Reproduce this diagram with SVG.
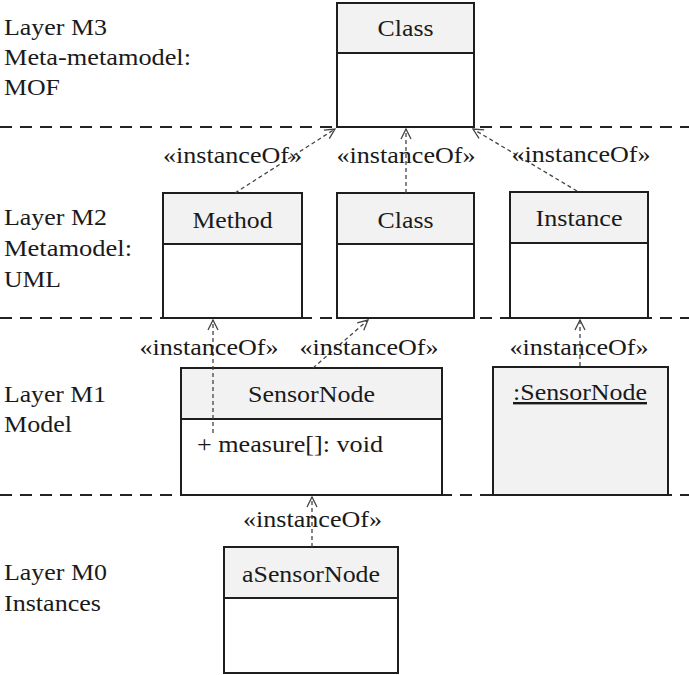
<svg xmlns="http://www.w3.org/2000/svg" width="689" height="675" viewBox="0 0 689 675">
  <style>
    text { font-family: Liberation Serif, Times New Roman, Times, Nimbus Roman, Noto Serif, DejaVu Serif, FreeSerif, serif; font-size: 24px; fill: #1a1a1a; }
    .c { text-anchor: middle; }
    .box { fill: #ffffff; stroke: #1e1e1e; stroke-width: 2; }
    .head { fill: #f2f2f2; stroke: #1e1e1e; stroke-width: 2; }
    .layer { stroke: #222; stroke-width: 2; stroke-dasharray: 12 8; fill: none; }
    .dep { stroke: #444; stroke-width: 1.3; stroke-dasharray: 4 3; fill: none; marker-end: url(#open); }
  </style>
  <defs>
    <marker id="open" viewBox="0 0 12 12" refX="11" refY="6" markerWidth="12" markerHeight="12" markerUnits="userSpaceOnUse" orient="auto">
      <path d="M1,1 L11,6 L1,11" fill="none" stroke="#444" stroke-width="1.3"/>
    </marker>
  </defs>
  <rect width="689" height="675" fill="#ffffff"/>

  <!-- layer separators -->
  <g id="separators">
    <line class="layer" x1="0" y1="127" x2="689" y2="127"/>
    <line class="layer" x1="0" y1="318" x2="689" y2="318"/>
    <line class="layer" x1="0" y1="495" x2="689" y2="495"/>
  </g>

  <!-- layer captions -->
  <g id="captions">
    <text x="4" y="35" textLength="103" lengthAdjust="spacingAndGlyphs">Layer M3</text>
    <text x="4" y="65" textLength="187" lengthAdjust="spacingAndGlyphs">Meta-metamodel:</text>
    <text x="4" y="95" textLength="56" lengthAdjust="spacingAndGlyphs">MOF</text>
    <text x="4" y="225" textLength="103" lengthAdjust="spacingAndGlyphs">Layer M2</text>
    <text x="4" y="256" textLength="128" lengthAdjust="spacingAndGlyphs">Metamodel:</text>
    <text x="4" y="287" textLength="57" lengthAdjust="spacingAndGlyphs">UML</text>
    <text x="4" y="402" textLength="102" lengthAdjust="spacingAndGlyphs">Layer M1</text>
    <text x="4" y="432" textLength="68" lengthAdjust="spacingAndGlyphs">Model</text>
    <text x="4" y="580" textLength="103" lengthAdjust="spacingAndGlyphs">Layer M0</text>
    <text x="4" y="611" textLength="97" lengthAdjust="spacingAndGlyphs">Instances</text>
  </g>

  <!-- M3 -->
  <g id="m3-class">
    <rect class="box" x="337" y="3" width="137" height="124"/>
    <rect class="head" x="337" y="3" width="137" height="50"/>
    <text class="c" x="405.5" y="36" textLength="56" lengthAdjust="spacingAndGlyphs">Class</text>
  </g>

  <!-- M2 -->
  <g id="m2-method">
    <rect class="box" x="163" y="193" width="139" height="125"/>
    <rect class="head" x="163" y="193" width="139" height="51"/>
    <text class="c" x="232.5" y="228" textLength="80" lengthAdjust="spacingAndGlyphs">Method</text>
  </g>
  <g id="m2-class">
    <rect class="box" x="337" y="193" width="137" height="125"/>
    <rect class="head" x="337" y="193" width="137" height="51"/>
    <text class="c" x="405.5" y="228" textLength="56" lengthAdjust="spacingAndGlyphs">Class</text>
  </g>
  <g id="m2-instance">
    <rect class="box" x="510" y="192" width="138" height="126"/>
    <rect class="head" x="510" y="192" width="138" height="51"/>
    <text class="c" x="579" y="226" textLength="87" lengthAdjust="spacingAndGlyphs">Instance</text>
  </g>

  <!-- M1 -->
  <g id="m1-sensornode">
    <rect class="box" x="181" y="368" width="261" height="127"/>
    <rect class="head" x="181" y="368" width="261" height="51"/>
    <text class="c" x="311.5" y="402" textLength="127" lengthAdjust="spacingAndGlyphs">SensorNode</text>
    <text x="197" y="452" textLength="186" lengthAdjust="spacingAndGlyphs">+ measure[]: void</text>
  </g>
  <g id="m1-instance">
    <rect class="head" x="493" y="367" width="175" height="128"/>
    <text class="c" x="580" y="400" text-decoration="underline" textLength="134" lengthAdjust="spacingAndGlyphs">:SensorNode</text>
  </g>

  <!-- M0 -->
  <g id="m0-asensornode">
    <rect class="box" x="224" y="547" width="174" height="126"/>
    <rect class="head" x="224" y="547" width="174" height="51"/>
    <text class="c" x="311" y="582" textLength="138" lengthAdjust="spacingAndGlyphs">aSensorNode</text>
  </g>

  <!-- instanceOf dependencies -->
  <g id="connectors">
    <line class="dep" x1="235" y1="193" x2="335" y2="129"/>
    <line class="dep" x1="406" y1="193" x2="406" y2="129"/>
    <line class="dep" x1="577" y1="191" x2="473" y2="129"/>
    <line class="dep" x1="213" y1="433" x2="213" y2="320"/>
    <line class="dep" x1="313" y1="368" x2="368" y2="320"/>
    <line class="dep" x1="580" y1="366" x2="580" y2="320"/>
    <line class="dep" x1="312" y1="547" x2="312" y2="497"/>
  </g>

  <!-- connector labels -->
  <g id="labels">
    <text class="c" x="232.5" y="163" textLength="139" lengthAdjust="spacingAndGlyphs">«instanceOf»</text>
    <text class="c" x="406" y="163" textLength="139" lengthAdjust="spacingAndGlyphs">«instanceOf»</text>
    <text class="c" x="581" y="162" textLength="139" lengthAdjust="spacingAndGlyphs">«instanceOf»</text>
    <text class="c" x="209" y="355" textLength="139" lengthAdjust="spacingAndGlyphs">«instanceOf»</text>
    <text class="c" x="369" y="355" textLength="139" lengthAdjust="spacingAndGlyphs">«instanceOf»</text>
    <text class="c" x="579" y="355" textLength="139" lengthAdjust="spacingAndGlyphs">«instanceOf»</text>
    <text class="c" x="312.5" y="527" textLength="139" lengthAdjust="spacingAndGlyphs">«instanceOf»</text>
  </g>
</svg>
